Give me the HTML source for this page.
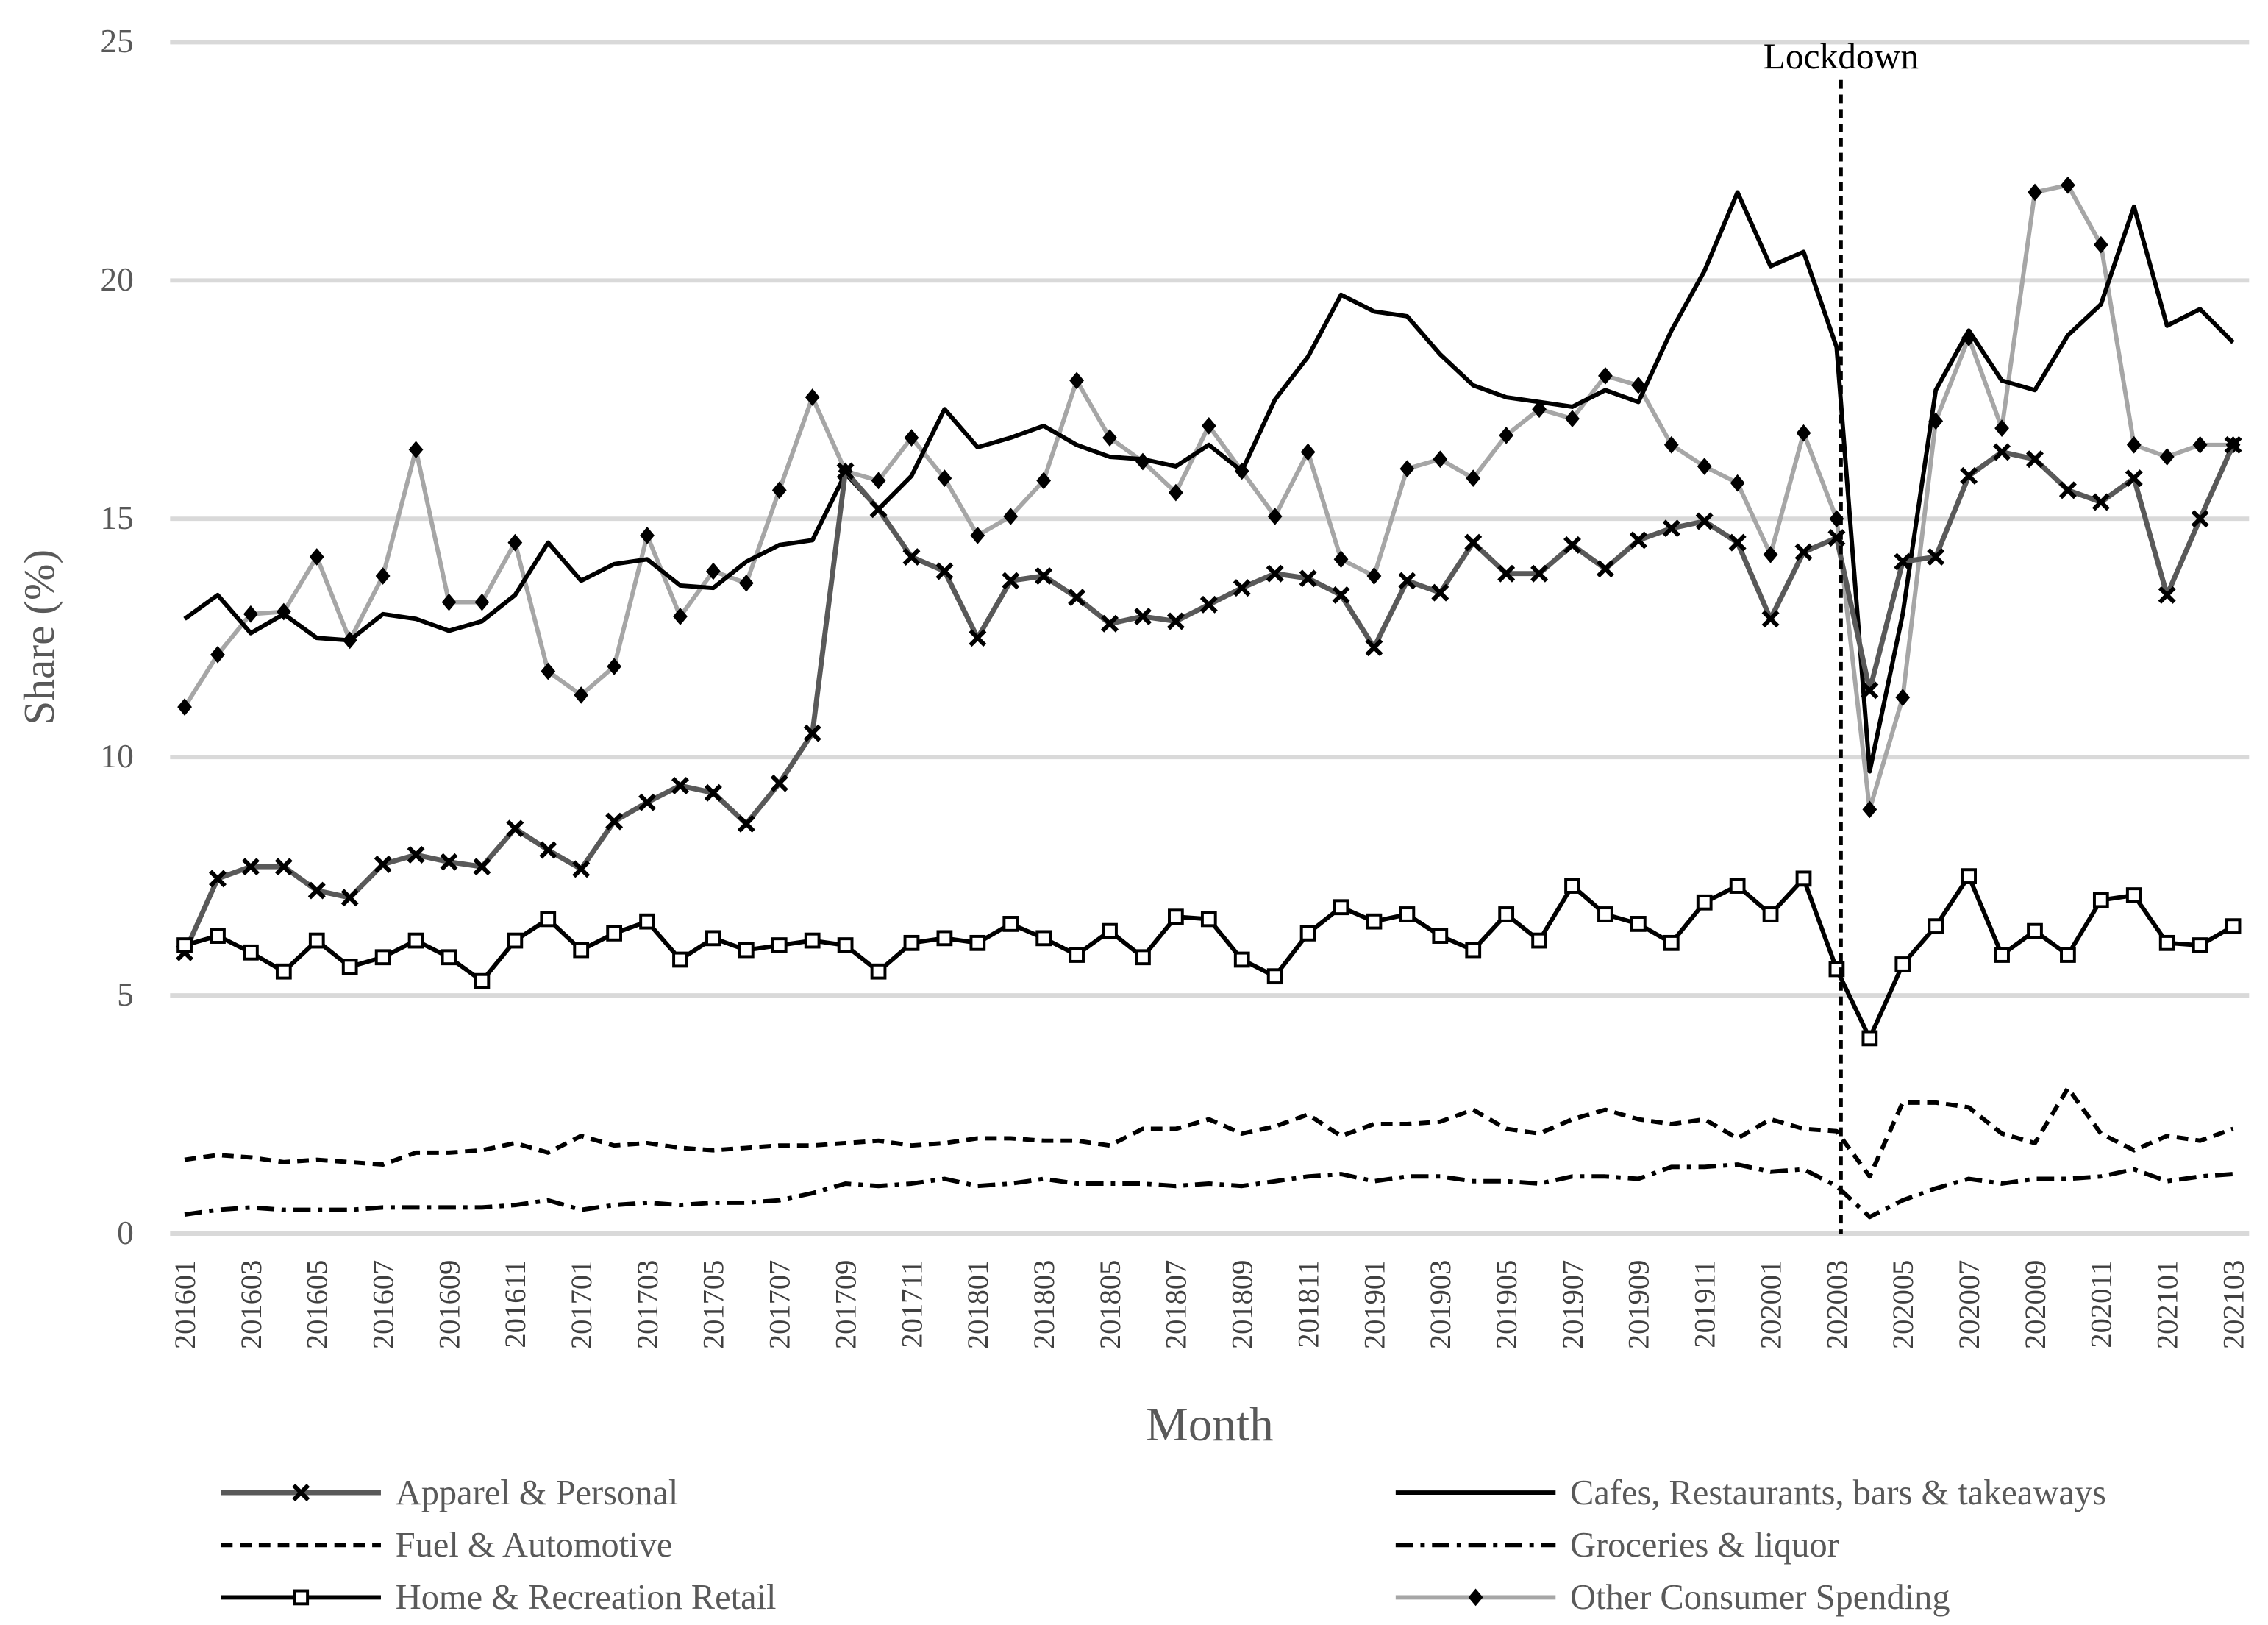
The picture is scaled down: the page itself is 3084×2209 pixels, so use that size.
<!DOCTYPE html>
<html><head><meta charset="utf-8"><style>html,body{margin:0;padding:0;background:#fff}svg{display:block}</style></head>
<body>
<svg id="chart" width="3084" height="2209" viewBox="0 0 1560 1117" preserveAspectRatio="none" xmlns="http://www.w3.org/2000/svg" font-family="'Liberation Serif', serif">
<g id="grid"></g><g id="axes"></g><g id="series"></g><g id="legend"></g>
</svg>
<script>
const months=[];for(let y=2016;y<=2021;y++)for(let m=1;m<=12;m++){if(y===2021&&m>3)break;months.push(''+y+(m<10?'0':'')+m);}
const yTicks=[0,5,10,15,20,25];
const apparel=[5.9,7.45,7.7,7.7,7.2,7.05,7.75,7.95,7.8,7.7,8.5,8.05,7.65,8.65,9.05,9.4,9.25,8.6,9.45,10.5,16.0,15.2,14.2,13.9,12.5,13.7,13.8,13.35,12.8,12.95,12.85,13.2,13.55,13.85,13.75,13.4,12.3,13.7,13.45,14.5,13.85,13.85,14.45,13.95,14.55,14.8,14.95,14.5,12.9,14.3,14.6,11.4,14.1,14.2,15.9,16.4,16.25,15.6,15.35,15.85,13.4,15.0,16.55];
const cafes=[12.9,13.4,12.6,13.0,12.5,12.45,13.0,12.9,12.65,12.85,13.4,14.5,13.7,14.05,14.15,13.6,13.55,14.1,14.45,14.55,15.95,15.2,15.9,17.3,16.5,16.7,16.95,16.55,16.3,16.25,16.1,16.55,16.0,17.5,18.4,19.7,19.35,19.25,18.45,17.8,17.55,17.45,17.35,17.7,17.45,18.95,20.2,21.85,20.3,20.6,18.6,9.7,13.0,17.7,18.95,17.9,17.7,18.85,19.5,21.55,19.05,19.4,18.7];
const other=[11.05,12.15,13.0,13.05,14.2,12.45,13.8,16.45,13.25,13.25,14.5,11.8,11.3,11.9,14.65,12.95,13.9,13.65,15.6,17.55,16.0,15.8,16.7,15.85,14.65,15.05,15.8,17.9,16.7,16.2,15.55,16.95,16.0,15.05,16.4,14.15,13.8,16.05,16.25,15.85,16.75,17.3,17.1,18.0,17.8,16.55,16.1,15.75,14.25,16.8,15.0,8.9,11.25,17.05,18.8,16.9,21.85,22.0,20.75,16.55,16.3,16.55,16.55];
const home=[6.05,6.25,5.9,5.5,6.15,5.6,5.8,6.15,5.8,5.3,6.15,6.6,5.95,6.3,6.55,5.75,6.2,5.95,6.05,6.15,6.05,5.5,6.1,6.2,6.1,6.5,6.2,5.85,6.35,5.8,6.65,6.6,5.75,5.4,6.3,6.85,6.55,6.7,6.25,5.95,6.7,6.15,7.3,6.7,6.5,6.1,6.95,7.3,6.7,7.45,5.55,4.1,5.65,6.45,7.5,5.85,6.35,5.85,7.0,7.1,6.1,6.05,6.45];
const fuel=[1.55,1.65,1.6,1.5,1.55,1.5,1.45,1.7,1.7,1.75,1.9,1.7,2.05,1.85,1.9,1.8,1.75,1.8,1.85,1.85,1.9,1.95,1.85,1.9,2.0,2.0,1.95,1.95,1.85,2.2,2.2,2.4,2.1,2.25,2.5,2.05,2.3,2.3,2.35,2.6,2.2,2.1,2.4,2.6,2.4,2.3,2.4,2.0,2.4,2.2,2.15,1.2,2.75,2.75,2.65,2.1,1.9,3.05,2.1,1.75,2.05,1.95,2.2];
const groceries=[0.4,0.5,0.55,0.5,0.5,0.5,0.55,0.55,0.55,0.55,0.6,0.7,0.5,0.6,0.65,0.6,0.65,0.65,0.7,0.85,1.05,1.0,1.05,1.15,1.0,1.05,1.15,1.05,1.05,1.05,1.0,1.05,1.0,1.1,1.2,1.25,1.1,1.2,1.2,1.1,1.1,1.05,1.2,1.2,1.15,1.4,1.4,1.45,1.3,1.35,1.0,0.35,0.7,0.95,1.15,1.05,1.15,1.15,1.2,1.35,1.1,1.2,1.25];
const lockdownIndex=50;

const NS='http://www.w3.org/2000/svg';
const X=i=>127+i*(1536-127)/(months.length-1);
const Y=v=>848-v*(848-29)/25;
function mk(tag,attrs,parent){const e=document.createElementNS(NS,tag);for(const k in attrs)e.setAttribute(k,attrs[k]);parent.appendChild(e);return e;}
const grid=document.getElementById('grid'),axes=document.getElementById('axes'),ser=document.getElementById('series'),leg=document.getElementById('legend');
yTicks.forEach(t=>{
 const l=mk('line',{x1:117,x2:1547,y1:Y(t),y2:Y(t),stroke:'#d9d9d9','stroke-width':3},grid);
 
 
 const tx=mk('text',{x:92,y:Y(t)+7,'text-anchor':'end','font-size':23,fill:'#595959'},axes);tx.textContent=t;
 
 
});
months.forEach((m,i)=>{if(i%2)return;
 const tx=mk('text',{transform:`translate(${X(i)+7},866) rotate(-90)`,'text-anchor':'end','font-size':20.5,fill:'#404040'},axes);tx.textContent=m;
 
 
});
let t=mk('text',{transform:'translate(37,438) rotate(-90)','text-anchor':'middle','font-size':30,fill:'#595959'},axes);t.textContent='Share (%)';


t=mk('text',{x:832,y:990,'text-anchor':'middle','font-size':33,fill:'#595959'},axes);t.textContent='Month';



const series=[
 {name:'Other Consumer Spending',data:other,color:'#a6a6a6',w:3,dash:null,marker:'diamond'},
 {name:'Cafes, Restaurants, bars & takeaways',data:cafes,color:'#000',w:3,dash:null,marker:null},
 {name:'Apparel & Personal',data:apparel,color:'#595959',w:3.5,dash:null,marker:'x'},
 {name:'Home & Recreation Retail',data:home,color:'#000',w:3,dash:null,marker:'square'},
 {name:'Fuel & Automotive',data:fuel,color:'#000',w:3,dash:'8 5',marker:null},
 {name:'Groceries & liquor',data:groceries,color:'#000',w:3,dash:'12 5 3 5',marker:null}
];
function marker(type,x,y,g,color){
 let e;
 if(type==='diamond')e=mk('path',{d:`M${x} ${y-6}L${x+5} ${y}L${x} ${y+6}L${x-5} ${y}Z`,fill:'#000'},g);
 else if(type==='square')e=mk('rect',{x:x-4.5,y:y-4.5,width:9,height:9,fill:'#fff',stroke:'#000','stroke-width':2},g);
 else if(type==='x')e=mk('path',{d:`M${x-5} ${y-5}L${x+5} ${y+5}M${x+5} ${y-5}L${x-5} ${y+5}`,stroke:'#000','stroke-width':3},g);
 return e;
}
series.forEach(s=>{
 const key=s.name.toLowerCase().replace(/[^a-z]+/g,'-');
 const g=mk('g',{},ser);
 
 
 const p=mk('polyline',{points:s.data.map((v,i)=>X(i)+','+Y(v)).join(' '),fill:'none',stroke:s.color,'stroke-width':s.w,'stroke-linejoin':'round'},g);
 if(s.dash)p.setAttribute('stroke-dasharray',s.dash);
 
 
 if(s.marker)s.data.forEach((v,i)=>{const m=marker(s.marker,X(i),Y(v),g);
  
  });
});
const lx=X(lockdownIndex)+3;
let ll=mk('line',{x1:lx,x2:lx,y1:55,y2:848,stroke:'#000','stroke-width':2.5,'stroke-dasharray':'6 4'},ser);


t=mk('text',{x:lx,y:47,'text-anchor':'middle','font-size':25,fill:'#000'},ser);t.textContent='Lockdown';



const legOrder=[[2,152,1026],[1,960,1026],[4,152,1062],[5,960,1062],[3,152,1098],[0,960,1098]];
legOrder.forEach(([si,x,y])=>{
 const s=series[si];const key=s.name.toLowerCase().replace(/[^a-z]+/g,'-');
 const g=mk('g',{},leg);
 
 
 const l=mk('line',{x1:x,x2:x+110,y1:y,y2:y,stroke:s.color,'stroke-width':s.w},g);
 if(s.dash)l.setAttribute('stroke-dasharray',s.dash);
 if(s.marker)marker(s.marker,x+55,y,g);
 const tx=mk('text',{x:x+120,y:y+8,'font-size':24.5,fill:'#595959'},g);tx.textContent=s.name;
});
</script>
</body></html>
